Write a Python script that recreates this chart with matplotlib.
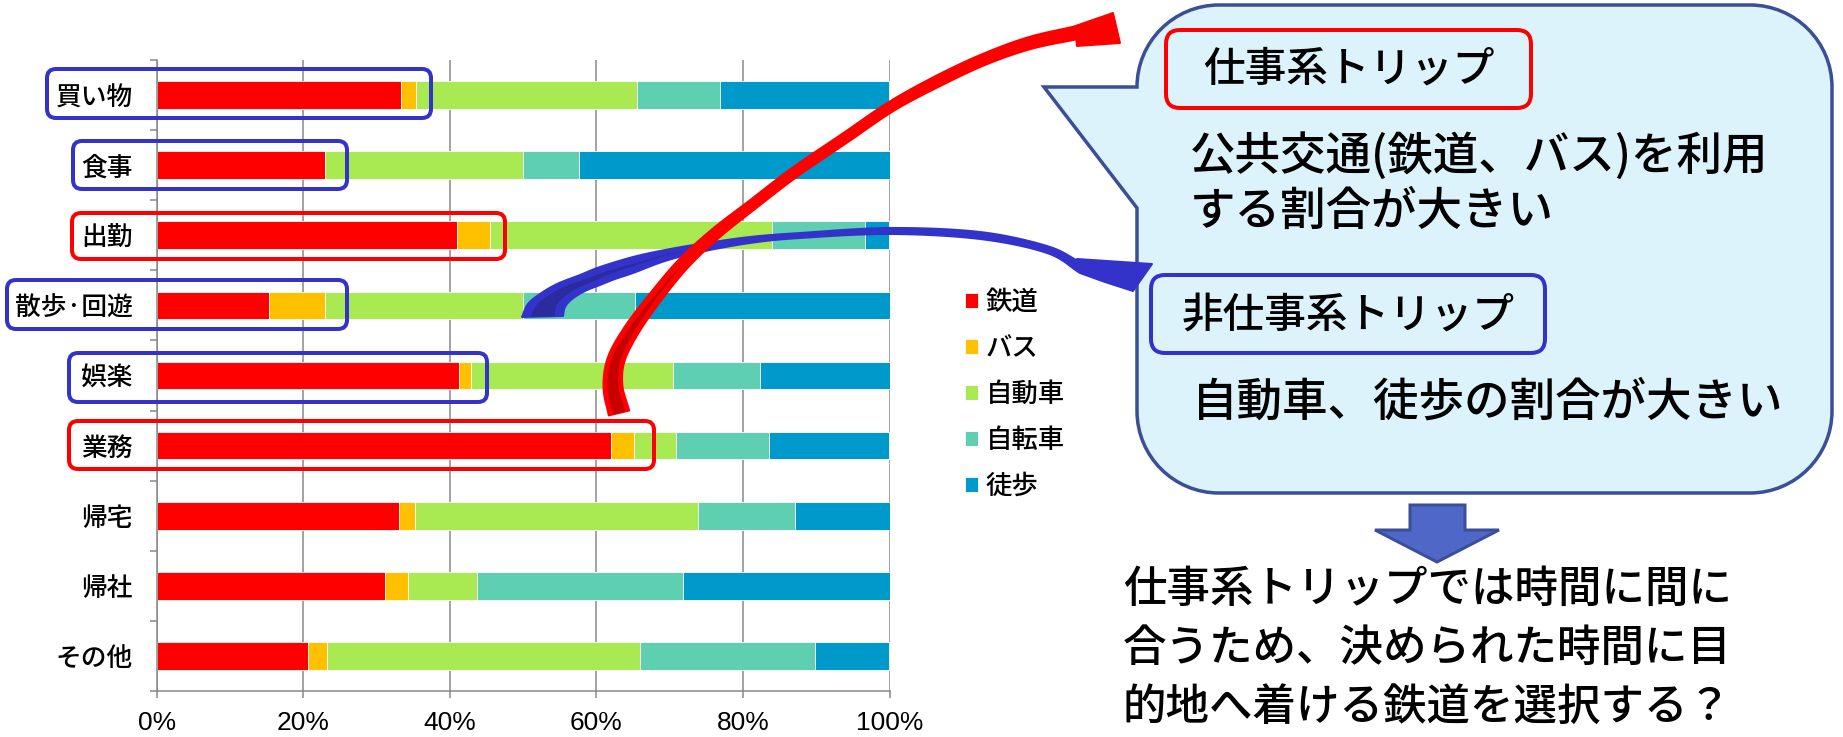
import numpy as np
import matplotlib
matplotlib.use("Agg")
import matplotlib.pyplot as plt
from matplotlib.path import Path
from matplotlib.patches import PathPatch, Polygon, FancyBboxPatch

plt.rcParams['font.family'] = ['Noto Sans CJK JP', 'DejaVu Sans']
plt.rcParams['font.weight'] = 'medium'

# ---- data: share of travel mode by trip purpose (%) ----
categories = ['買い物', '食事', '出勤', '散歩·回遊', '娯楽', '業務', '帰宅', '帰社', 'その他']
modes = ['鉄道', 'バス', '自動車', '自転車', '徒歩']
rail = [33.4, 23.0, 41.0, 15.3, 41.2, 62.0, 33.1, 31.1, 20.7]
bus = [2.0, 0.0, 4.5, 7.7, 1.7, 3.1, 2.2, 3.2, 2.5]
car = [30.1, 27.0, 38.5, 27.0, 27.6, 5.7, 38.6, 9.4, 42.8]
bike = [11.4, 7.6, 12.6, 15.3, 11.8, 12.7, 13.2, 28.1, 23.9]
walk = [23.1, 42.4, 3.4, 34.7, 17.7, 16.5, 12.9, 28.2, 10.1]
xtick_labels = ['0%', '20%', '40%', '60%', '80%', '100%']

mode_colors = ['#FF0000', '#FFC000', '#A9EA52', '#5ECFB1', '#0099CC']

W, H = 1843, 737
fig = plt.figure(figsize=(W / 100, H / 100), dpi=100)
fig.patch.set_facecolor('white')


def pt(px):
    return px * 72 / 100


# ---- stacked horizontal bar chart ----
ax_l, ax_r, ax_t, ax_b = 156.7, 889.5, 60, 691
ax = fig.add_axes([ax_l / W, 1 - ax_b / H, (ax_r - ax_l) / W, (ax_b - ax_t) / H])

ypos = np.arange(len(categories))
left = np.zeros(len(categories))
for name, vals, col in zip(modes, [rail, bus, car, bike, walk], mode_colors):
    v = np.array(vals) / 100.0
    ax.barh(ypos, v, left=left, height=0.395, color=col, edgecolor='white',
            linewidth=0.6, label=name, zorder=2)
    left += v

ax.set_xlim(0, 1)
ax.set_ylim(len(categories) - 0.5, -0.5)
ax.set_xticks(np.linspace(0, 1, 6))
ax.set_xticklabels(xtick_labels, fontfamily='Liberation Sans', fontweight='normal',
                   fontsize=19)
ax.set_yticks(np.arange(-0.5, len(categories), 1))
ax.set_yticklabels([])
ax.set_yticks(ypos, minor=True)
ax.set_yticklabels(categories, minor=True, fontsize=18.5)

grey = '#868686'
ax.tick_params(axis='x', length=pt(7), width=pt(1.5), color=grey, pad=9)
ax.tick_params(axis='y', which='major', length=pt(7), width=pt(1.5), color=grey)
ax.tick_params(axis='y', which='minor', length=0, pad=pt(24))
ax.xaxis.grid(True, color=grey, linewidth=pt(1.5), zorder=0)
ax.set_axisbelow(True)
for s in ['top', 'right']:
    ax.spines[s].set_visible(False)
for s in ['left', 'bottom']:
    ax.spines[s].set_color(grey)
    ax.spines[s].set_linewidth(pt(1.5))

leg = ax.legend(loc='upper left', bbox_to_anchor=(965 / W, 1 - 289 / H),
                bbox_transform=fig.transFigure, frameon=False, fontsize=19,
                handlelength=0.5, handleheight=0.5, handletextpad=0.28,
                labelspacing=0.72, borderpad=0, borderaxespad=0)

# ---- annotation layer in pixel coordinates ----
ov = fig.add_axes([0, 0, 1, 1], zorder=5)
ov.set_xlim(0, W)
ov.set_ylim(H, 0)
ov.axis('off')
ov.set_facecolor('none')

BLUE = '#3333CC'
RED = '#FF0000'


def rbox(x0, y0, x1, y1, color, lw=4, r=9, z=3):
    p = FancyBboxPatch((x0, y0), x1 - x0, y1 - y0,
                       boxstyle=f'round,pad=0,rounding_size={r}',
                       facecolor='none', edgecolor=color, linewidth=pt(lw), zorder=z)
    ov.add_patch(p)


# highlight frames around the category labels
rbox(47, 69, 431, 118, BLUE)
rbox(73, 141, 347, 189, BLUE)
rbox(72, 213, 505, 259, RED)
rbox(7, 280, 347, 329, BLUE)
rbox(69, 353, 487, 402, BLUE)
rbox(69, 421, 654, 469, RED)


def catmull(pts, n=16):
    pts = np.asarray(pts, float)
    P = np.vstack([2 * pts[0] - pts[1], pts, 2 * pts[-1] - pts[-2]])
    out = []
    t = np.linspace(0, 1, n, endpoint=False)[:, None]
    for i in range(1, len(P) - 2):
        p0, p1, p2, p3 = P[i - 1], P[i], P[i + 1], P[i + 2]
        seg = 0.5 * ((2 * p1) + (-p0 + p2) * t + (2 * p0 - 5 * p1 + 4 * p2 - p3) * t ** 2
                     + (-p0 + 3 * p1 - 3 * p2 + p3) * t ** 3)
        out.append(seg)
    out.append(P[-2][None])
    return np.vstack(out)


def band(center, widths, n=16):
    c = catmull(center, n)
    s = np.linspace(0, len(center) - 1, len(c))
    w = np.interp(s, np.arange(len(center)), widths)
    d = np.gradient(c, axis=0)
    d /= np.linalg.norm(d, axis=1)[:, None]
    nrm = np.column_stack([-d[:, 1], d[:, 0]])
    a = c + nrm * w[:, None] / 2
    b = c - nrm * w[:, None] / 2
    return a, b


# ---- speech bubble ----
def bubble_path(x0, y0, x1, y1, r, tip, ptop, pbot):
    k = 0.5523 * r
    V = [(x0 + r, y0), (x1 - r, y0),
         (x1 - r + k, y0), (x1, y0 + r - k), (x1, y0 + r),
         (x1, y1 - r),
         (x1, y1 - r + k), (x1 - r + k, y1), (x1 - r, y1),
         (x0 + r, y1),
         (x0 + r - k, y1), (x0, y1 - r + k), (x0, y1 - r),
         (x0, pbot), tip, (x0, ptop), (x0, y0 + r),
         (x0, y0 + r - k), (x0 + r - k, y0), (x0 + r, y0),
         (x0 + r, y0)]
    C = [Path.MOVETO, Path.LINETO,
         Path.CURVE4, Path.CURVE4, Path.CURVE4,
         Path.LINETO,
         Path.CURVE4, Path.CURVE4, Path.CURVE4,
         Path.LINETO,
         Path.CURVE4, Path.CURVE4, Path.CURVE4,
         Path.LINETO, Path.LINETO, Path.LINETO, Path.LINETO,
         Path.CURVE4, Path.CURVE4, Path.CURVE4,
         Path.CLOSEPOLY]
    return Path(V, C)


ov.add_patch(PathPatch(bubble_path(1137, 5, 1832, 493, 82, (1044, 87), 87, 208),
                       facecolor='#DDF3FC', edgecolor='#3B4F95',
                       linewidth=pt(3.5), joinstyle='miter', zorder=2))
rbox(1166, 30, 1531, 108, RED, lw=4, r=14, z=3)
rbox(1151, 275, 1545, 353, BLUE, lw=4, r=14, z=3)

body = 32.8
ov.text(1349, 69, '仕事系トリップ', ha='center', va='center', fontsize=30, zorder=4)
ov.text(1190, 156, '公共交通(鉄道、バス)を利用', ha='left', va='center', fontsize=body, zorder=4)
ov.text(1190, 211, 'する割合が大きい', ha='left', va='center', fontsize=body, zorder=4)
ov.text(1348, 315, '非仕事系トリップ', ha='center', va='center', fontsize=30, zorder=4)
ov.text(1192, 402, '自動車、徒歩の割合が大きい', ha='left', va='center', fontsize=body, zorder=4)

# ---- downward arrow and conclusion ----
ov.add_patch(Polygon([(1410, 505), (1465, 505), (1465, 530), (1499, 530),
                      (1437, 562), (1375, 530), (1410, 530)], closed=True,
                     facecolor='#4F68C8', edgecolor='#3A4E9A', linewidth=pt(3),
                     joinstyle='miter', zorder=3))
concl = ['仕事系トリップでは時間に間に',
         '合うため、決められた時間に目',
         '的地へ着ける鉄道を選択する？']
for i, line in enumerate(concl):
    ov.text(1123, 589 + 59 * i, line, ha='left', va='center', fontsize=31.3, zorder=4)

# ---- blue curved arrow: non-work trips -> bubble ----
blue_upper = [(522, 317), (528, 304), (540, 294), (557, 284), (580, 275), (600, 267),
              (633, 257), (665, 250), (700, 244), (750, 237), (800, 233), (890, 228),
              (980, 232), (1047, 246), (1080, 262)]
blue_lower = [(563, 316), (565, 307), (572, 299), (585, 291), (600, 285), (615, 279),
              (633, 273), (665, 261), (700, 252), (750, 243), (800, 238), (890, 234),
              (980, 239), (1047, 253), (1080, 273)]
bu = catmull(blue_upper)
bl = catmull(blue_lower)
blue_poly = np.vstack([bu, [(1077, 259), (1152, 264), (1133, 291), (1105, 282)], bl[::-1]])
ov.add_patch(Polygon(blue_poly, closed=True, facecolor=BLUE, edgecolor=BLUE,
                     linewidth=pt(2), joinstyle='round', zorder=6))
m = 16 * 8
tt = np.linspace(0.2, 0.5, m)[:, None]
iu = bu[:m] + tt * (bl[:m] - bu[:m])
il = bl[:m] - tt * (bl[:m] - bu[:m])
ov.add_patch(Polygon(np.vstack([iu, il[::-1]]), closed=True, facecolor='#2B2B9E',
                     edgecolor='none', zorder=6.1))

# ---- red curved arrow: work trips -> bubble ----
red_center = [(619, 413), (613, 387), (616, 360), (631, 331), (654, 299), (683, 264),
              (715, 234), (752, 205), (795, 172), (845, 138), (892, 106), (940, 80),
              (985, 59), (1030, 43), (1075, 33)]
red_w = [21, 19, 17, 15, 13, 12, 11, 10, 10, 10, 10, 11, 11, 12, 13]
ra, rb = band(red_center, red_w)
up, lo = (ra, rb) if ra[-1][1] < rb[-1][1] else (rb, ra)
red_poly = np.vstack([up, [(1113, 13), (1120, 43), (1077, 46)], lo[::-1]])
ov.add_patch(Polygon(red_poly, closed=True, facecolor=RED, edgecolor=RED,
                     linewidth=pt(2), joinstyle='round', zorder=7))
red_inner_w = [13, 11, 9, 6, 3, 0.5, 0, 0, 0, 0, 0, 0, 0, 0, 0]
ia, ib = band(red_center, red_inner_w)
k = 16 * 5
ov.add_patch(Polygon(np.vstack([ia[:k], ib[:k][::-1]]), closed=True,
                     facecolor='#C80000', edgecolor='none', zorder=7.1))

fig.savefig('out.png', dpi=100, facecolor='white')
